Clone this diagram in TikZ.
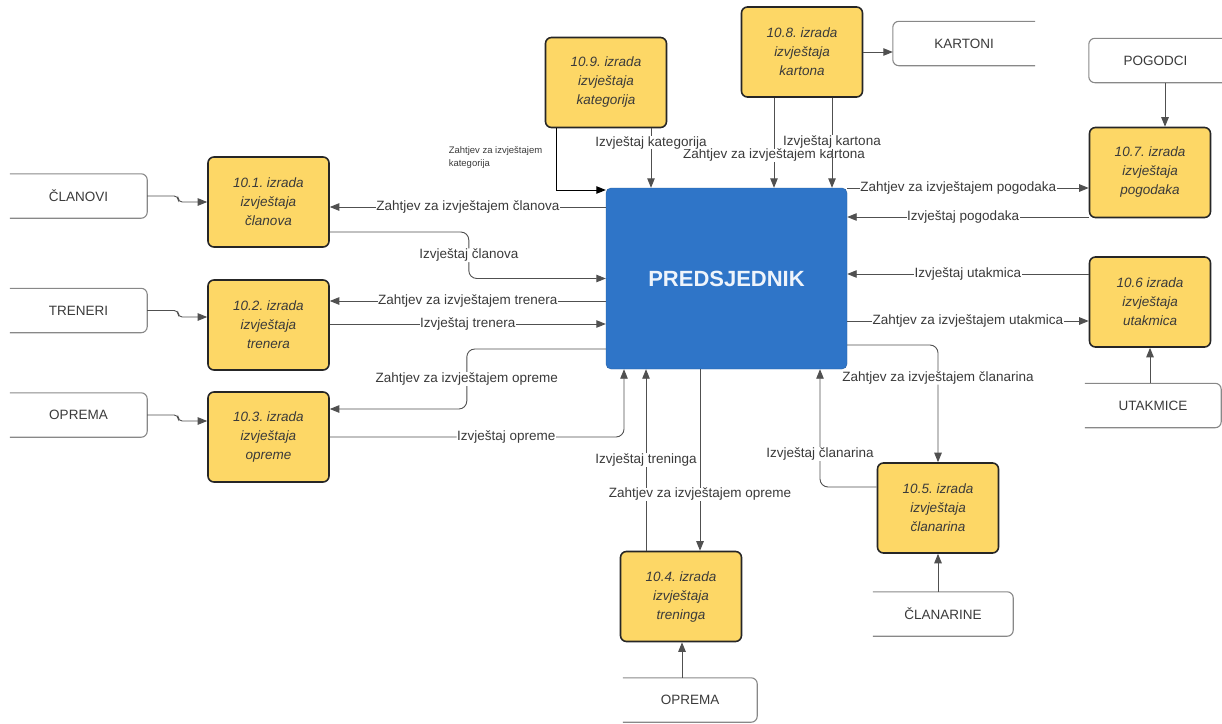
\documentclass[tikz,border=0pt]{standalone}
\usepackage{fontspec}
\setmainfont{Liberation Sans}
\usetikzlibrary{arrows.meta, positioning, calc}
\frenchspacing

\definecolor{procyellow}{HTML}{FDD766}
\definecolor{presblue}{HTML}{2F75C8}
\definecolor{flowgray}{HTML}{505050}
\definecolor{storegray}{HTML}{888888}
\definecolor{labelgray}{HTML}{3A3A3A}

\tikzset{
	proc/.style={draw=black!85, line width=1.6pt, rounded corners=6pt, fill=procyellow, minimum width=121pt, minimum height=90pt, align=center, text=labelgray, font=\fontsize{13.5}{19}\selectfont\itshape},
	store/.style={minimum height=44pt, text=labelgray, font=\fontsize{13.5}{16}\selectfont},
	storeline/.style={draw=storegray, line width=1.1pt, rounded corners=6pt},
	flow/.style={draw=flowgray, line width=0.9pt, -{Triangle[length=9.5pt,width=7.5pt]}},
	lbl/.style={fill=white, inner sep=0.5pt, text=labelgray, font=\fontsize{13.5}{16}\selectfont},
}

\begin{document}
\begin{tikzpicture}[x=1pt, y=-1pt]
	\useasboundingbox (0,0) rectangle (1222,723);
	% central entity
	\node[draw=presblue!80!black, fill=presblue, rounded corners=5pt, minimum width=241pt, minimum height=181pt, text=white!92!presblue, font=\fontsize{22}{26}\selectfont\bfseries] (pred) at (726.5,278.5) {PREDSJEDNIK};

	% processes
	\node[proc] (p101) at (268.5,202) {10.1. izrada\\izvještaja\\članova};
	\node[proc] (p102) at (268.5,325) {10.2. izrada\\izvještaja\\trenera};
	\node[proc] (p103) at (268.5,437) {10.3. izrada\\izvještaja\\opreme};
	\node[proc] (p104) at (681,596.5) {10.4. izrada\\izvještaja\\treninga};
	\node[proc] (p105) at (938,508) {10.5. izrada\\izvještaja\\članarina};
	\node[proc] (p106) at (1150,302) {10.6 izrada\\izvještaja\\utakmica};
	\node[proc] (p107) at (1150,172.5) {10.7. izrada\\izvještaja\\pogodaka};
	\node[proc] (p108) at (802,52) {10.8. izrada\\izvještaja\\kartona};
	\node[proc] (p109) at (606,82.5) {10.9. izrada\\izvještaja\\kategorija};

	% stores
	\node[store, minimum width=137pt] (clanovi) at (78.5,196) {ČLANOVI};
	\node[store, minimum width=137pt] (treneri) at (78.5,310.5) {TRENERI};
	\node[store, minimum width=137pt] (opremaL) at (78.5,415) {OPREMA};
	\node[store, minimum width=142pt] (kartoni) at (964,43.5) {KARTONI};
	\node[store, minimum width=133pt] (pogodci) at (1155.5,60.5) {POGODCI};
	\node[store, minimum width=136pt] (utakmice) at (1153,405.5) {UTAKMICE};
	\node[store, minimum width=140pt] (clanarine) at (943,614) {ČLANARINE};
	\node[store, minimum width=134pt] (opremaB) at (690,700) {OPREMA};
	\foreach \s in {clanovi, treneri, opremaL, utakmice, clanarine, opremaB}
		\draw[storeline] (\s.north west) -- (\s.north east) -- (\s.south east) -- (\s.south west);
	\foreach \s in {kartoni, pogodci}
		\draw[storeline] (\s.north east) -- (\s.north west) -- (\s.south west) -- (\s.south east);

	% stores to processes
	\draw[flow, rounded corners=4pt] (clanovi.east) -- ++(31,0) |- (p101.west);
	\draw[flow, rounded corners=4pt] (treneri.east) -- ++(31,0) |- ([yshift=8pt]p102.west);
	\draw[flow, rounded corners=4pt] (opremaL.east) -- ++(31,0) |- ([yshift=16pt]p103.west);
	\draw[flow] ([xshift=9.5pt]pogodci.south) -- ([xshift=15pt]p107.north);
	\draw[flow] ([xshift=-3pt]utakmice.north) -- (p106.south);
	\draw[flow] ([xshift=-5pt]clanarine.north) -- (p105.south);
	\draw[flow] ([xshift=-8pt]opremaB.north) -- ([xshift=1pt]p104.south);
	\draw[flow] (p108.east) -- ([yshift=-8.5pt]kartoni.west);

	% left side
	\draw[flow] ([yshift=71.5pt]pred.west) -- ([yshift=-5pt]p101.east) node[lbl, midway] {Zahtjev za izvještajem članova};
	\draw[flow, rounded corners=8pt] ([yshift=-30pt]p101.east) -- ++(139,0) |- (pred.west) node[lbl, pos=0.25] {Izvještaj članova};
	\draw[flow] ([yshift=-22.5pt]pred.west) -- ([yshift=24pt]p102.east) node[lbl, midway] {Zahtjev za izvještajem trenera};
	\draw[flow] ([yshift=1pt]p102.east) -- ([yshift=-45.5pt]pred.west) node[lbl, midway] {Izvještaj trenera};
	\draw[flow, rounded corners=8pt] ([yshift=-70.5pt]pred.west) -- ++(-139,0) |- ([yshift=28pt]p103.east) node[lbl, pos=0.25] {Zahtjev za izvještajem opreme};
	\draw[flow, rounded corners=8pt] (p103.east) -| ([xshift=-102.5pt]pred.south) node[lbl, pos=0.3] {Izvještaj opreme};

	% bottom
	\draw[flow] ([xshift=-35pt]p104.north) -- ([xshift=-80.5pt]pred.south) node[lbl, midway] {Izvještaj treninga};
	\draw[flow] ([xshift=-26.5pt]pred.south) -- ([xshift=19pt]p104.north) node[lbl, pos=0.69] {Zahtjev za izvještajem opreme};
	\draw[flow, rounded corners=8pt] ([yshift=21pt]p105.west) -| ([xshift=93.5pt]pred.south) node[lbl, pos=0.64] {Izvještaj članarina};
	\draw[flow, rounded corners=8pt] ([yshift=-66.5pt]pred.east) -| (p105.north) node[lbl, pos=0.64] {Zahtjev za izvještajem članarina};

	% right side
	\draw[flow] ([yshift=90.5pt]pred.east) -- ([yshift=-15.5pt]p107.west) node[lbl, pos=0.46] {Zahtjev za izvještajem pogodaka};
	\draw[flow] ([yshift=-44.5pt]p107.west) -- ([yshift=61.5pt]pred.east) node[lbl, pos=0.52] {Izvještaj pogodaka};
	\draw[flow] ([yshift=28pt]p106.west) -- ([yshift=4.5pt]pred.east) node[lbl, midway] {Izvještaj utakmica};
	\draw[flow] ([yshift=-42.5pt]pred.east) -- ([yshift=-19pt]p106.west) node[lbl, midway] {Zahtjev za izvještajem utakmica};

	% top
	\draw[flow] ([xshift=-28pt]p108.south) -- ([xshift=47.5pt]pred.north) node[lbl, pos=0.64] {Zahtjev za izvještajem kartona};
	\draw[flow] ([xshift=30pt]p108.south) -- ([xshift=105.5pt]pred.north) node[lbl, pos=0.49] {Izvještaj kartona};
	\draw[flow] ([xshift=45pt]p109.south) -- ([xshift=-75.5pt]pred.north) node[lbl, pos=0.24] {Izvještaj kategorija};
	\draw[flow, draw=black] ([xshift=-50pt]p109.south) |- ([yshift=88.5pt]pred.west) node[pos=0.24, anchor=east, xshift=-10pt, align=left, text=labelgray, font=\fontsize{9.5}{13}\selectfont] {Zahtjev za izvještajem\\kategorija};
\end{tikzpicture}
\end{document}
